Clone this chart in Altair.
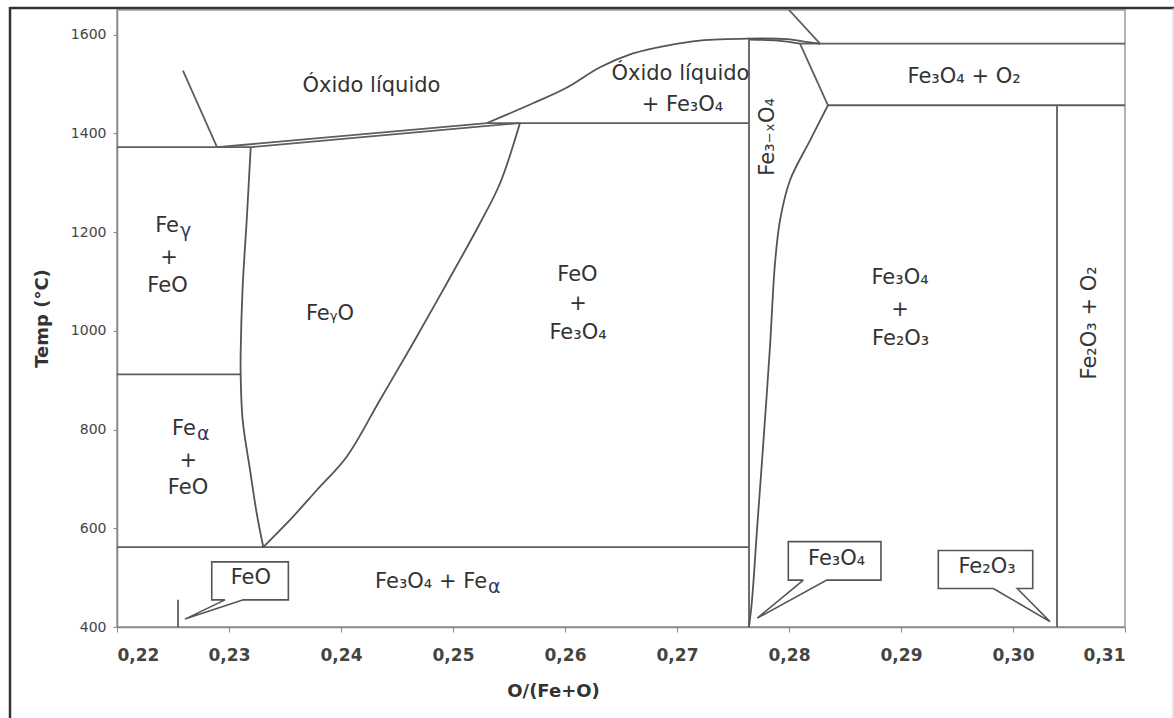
import altair as alt
import pandas as pd

# ---------------- axis values ----------------
x_ticks = [0.22, 0.23, 0.24, 0.25, 0.26, 0.27, 0.28, 0.29, 0.30, 0.31]
t_ticks = [400, 600, 800, 1000, 1200, 1400, 1600]
x_domain = [0.22, 0.31]
t_domain = [400, 1650]

# ---------------- straight phase boundaries (x = O/(Fe+O), t = °C) ----------------
eutectic_x = [0.22, 0.23194]
eutectic_t = [1372, 1372]
alpha_gamma_x = [0.22, 0.23104]
alpha_gamma_t = [912, 912]
eutectoid_x = [0.22, 0.27643]
eutectoid_t = [562, 562]
peritectic_x = [0.25304, 0.27643]
peritectic_t = [1421, 1421]
magnetite_left_x = [0.27643, 0.27643]
magnetite_left_t = [400, 1594]
fe3o4_o2_x = [0.28098, 0.31]
fe3o4_o2_t = [1582, 1582]
fe2o3_top_x = [0.28348, 0.31]
fe2o3_top_t = [1457, 1457]
hematite_x = [0.30393, 0.30393]
hematite_t = [400, 1457]
small_tick_x = [0.22545, 0.22545]
small_tick_t = [400, 455]

# ---------------- curved phase boundaries ----------------
fe_liquidus_x = [0.22589, 0.22893]
fe_liquidus_t = [1527, 1372]
wus_liquidus_x = [0.22893, 0.25304]
wus_liquidus_t = [1372, 1421]
wus_solidus_x = [0.23194, 0.25598]
wus_solidus_t = [1372, 1421]
wus_left_x = [0.23194, 0.23158, 0.23122, 0.23104, 0.23104, 0.23122, 0.23188, 0.23247, 0.23306]
wus_left_t = [1372, 1224, 1089, 955, 912, 819, 718, 631, 562]
wus_right_x = [0.23306, 0.23545, 0.23783, 0.24051, 0.24348, 0.24643, 0.24944, 0.25241, 0.25420, 0.25598]
wus_right_t = [562, 617, 677, 745, 860, 975, 1096, 1218, 1299, 1421]
liquid_x = [0.25304, 0.25714, 0.26018, 0.26313, 0.26607, 0.26911, 0.27205, 0.27634, 0.27982, 0.28170, 0.28277]
liquid_t = [1421, 1461, 1493, 1534, 1562, 1578, 1588, 1592, 1591, 1585, 1582]
magnetite_top_x = [0.27643, 0.27900, 0.28098]
magnetite_top_t = [1590, 1588, 1582]
o2_line_x = [0.28000, 0.28277]
o2_line_t = [1650, 1582]
mag_right_upper_x = [0.28098, 0.28348]
mag_right_upper_t = [1582, 1457]
mag_right_x = [0.28348, 0.28188, 0.28009, 0.27920, 0.27875, 0.27830, 0.27768, 0.27714, 0.27670, 0.27643]
mag_right_t = [1457, 1386, 1305, 1224, 1137, 967, 764, 596, 455, 400]

# ---------------- callout boxes ----------------
callout_names = ["FeO", "Fe3O4", "Fe2O3"]
callout_box_x0 = [0.22846, 0.27994, 0.29333]
callout_box_x1 = [0.23530, 0.28821, 0.30176]
callout_box_top = [532, 573, 555]
callout_box_bot = [455, 495, 478]
callout_base_x0 = [0.22964, 0.28128, 0.29824]
callout_base_x1 = [0.23128, 0.28337, 0.30038]
callout_tip_x = [0.22607, 0.27717, 0.30330]
callout_tip_t = [416, 418, 411]

# ---------------- labels ----------------
label_text = ["Óxido líquido", "Óxido líquido", "+ Fe₃O₄", "Fe₃O₄ + O₂",
              "+", "FeO", "FeᵧO", "+", "FeO",
              "FeO", "+", "Fe₃O₄", "Fe₃O₄", "+", "Fe₂O₃",
              "FeO", "Fe₃O₄", "Fe₂O₃"]
label_x = [0.24272, 0.27031, 0.27049, 0.29563,
           0.22464, 0.22451, 0.23902, 0.22637, 0.22634,
           0.26111, 0.26116, 0.26116, 0.28991, 0.28991, 0.28997,
           0.23195, 0.28425, 0.29768]
label_t = [1497, 1521, 1457, 1515,
           1147, 1091, 1034, 736, 682,
           1113, 1055, 995, 1107, 1043, 983,
           499, 538, 522]

vlabel_text = ["Fe₃₋ₓO₄", "Fe₂O₃ + O₂"]
vlabel_x = [0.27813, 0.30688]
vlabel_t = [1393, 1016]

greek_main = ["Fe", "Fe", "Fe₃O₄ + Fe"]
greek_sub = ["γ", "α", "α"]
greek_x = [0.22554, 0.22705, 0.25304]
greek_t = [1212, 802, 491]

# ---------------- build tables ----------------
straight = {
    "eutectic": (eutectic_x, eutectic_t),
    "alpha_gamma": (alpha_gamma_x, alpha_gamma_t),
    "eutectoid": (eutectoid_x, eutectoid_t),
    "peritectic": (peritectic_x, peritectic_t),
    "magnetite_left": (magnetite_left_x, magnetite_left_t),
    "fe3o4_o2": (fe3o4_o2_x, fe3o4_o2_t),
    "fe2o3_top": (fe2o3_top_x, fe2o3_top_t),
    "hematite": (hematite_x, hematite_t),
    "small_tick": (small_tick_x, small_tick_t),
    "fe_liquidus": (fe_liquidus_x, fe_liquidus_t),
    "wus_liquidus": (wus_liquidus_x, wus_liquidus_t),
    "wus_solidus": (wus_solidus_x, wus_solidus_t),
    "o2_line": (o2_line_x, o2_line_t),
    "mag_right_upper": (mag_right_upper_x, mag_right_upper_t),
}
curves = {
    "wus_left": (wus_left_x, wus_left_t),
    "wus_right": (wus_right_x, wus_right_t),
    "liquid": (liquid_x, liquid_t),
    "magnetite_top": (magnetite_top_x, magnetite_top_t),
    "mag_right": (mag_right_x, mag_right_t),
}


def to_df(segs):
    rows = []
    for name, (xs, ts) in segs.items():
        for i, (xv, tv) in enumerate(zip(xs, ts)):
            rows.append({"seg": name, "i": i, "x": xv, "t": tv})
    return pd.DataFrame(rows)


straight_df = to_df(straight)
curve_df = to_df(curves)

call_rows = []
for k, name in enumerate(callout_names):
    pts = [
        (callout_base_x0[k], callout_box_bot[k]),
        (callout_box_x0[k], callout_box_bot[k]),
        (callout_box_x0[k], callout_box_top[k]),
        (callout_box_x1[k], callout_box_top[k]),
        (callout_box_x1[k], callout_box_bot[k]),
        (callout_base_x1[k], callout_box_bot[k]),
        (callout_tip_x[k], callout_tip_t[k]),
        (callout_base_x0[k], callout_box_bot[k]),
    ]
    for i, (xv, tv) in enumerate(pts):
        call_rows.append({"seg": name, "i": i, "x": xv, "t": tv})
callout_df = pd.DataFrame(call_rows)

labels_df = pd.DataFrame({"text": label_text, "x": label_x, "t": label_t})
vlabels_df = pd.DataFrame({"text": vlabel_text, "x": vlabel_x, "t": vlabel_t})
greek_df = pd.DataFrame({"main": greek_main, "sub": greek_sub, "x": greek_x, "t": greek_t})

FONT = "DejaVu Sans"
LINE = "#555555"
TEXT = "#333333"

x_axis = alt.Axis(
    values=x_ticks,
    labelExpr="replace(format(datum.value, '.2f'), '.', ',')",
    title="O/(Fe+O)",
    grid=False,
    tickSize=5,
    labelPadding=15,
    labelFont=FONT,
    labelFontSize=17,
    labelFontWeight="bold",
    labelColor="#444444",
    domainColor="#888888",
    domainWidth=1.5,
    tickColor="#888888",
    titleFont=FONT,
    titleFontSize=18,
    titleFontWeight="bold",
    titleColor=TEXT,
    titleX=436,
    titleY=64,
    titleBaseline="middle",
)
y_axis = alt.Axis(
    values=t_ticks,
    format="d",
    title="Temp (°C)",
    grid=False,
    tickSize=4,
    labelPadding=7,
    labelFont=FONT,
    labelFontSize=14,
    labelColor="#444444",
    domainColor="#888888",
    domainWidth=1.5,
    tickColor="#888888",
    titleFont=FONT,
    titleFontSize=18,
    titleFontWeight="bold",
    titleColor=TEXT,
    titleX=-75,
    titleY=308,
    titleBaseline="middle",
)

X = alt.X("x:Q", scale=alt.Scale(domain=x_domain, nice=False, zero=False), axis=x_axis)
Y = alt.Y("t:Q", scale=alt.Scale(domain=t_domain, nice=False, zero=False), axis=y_axis)

straight_layer = alt.Chart(straight_df).mark_line(color="#5e5e5e", strokeWidth=1.8, clip=True).encode(
    x=X, y=Y, detail="seg:N", order="i:Q"
)
curve_layer = alt.Chart(curve_df).mark_line(
    color=LINE, strokeWidth=1.8, clip=True, interpolate="catmull-rom"
).encode(x="x:Q", y="t:Q", detail="seg:N", order="i:Q")
callout_layer = alt.Chart(callout_df).mark_line(color=LINE, strokeWidth=1.6).encode(
    x="x:Q", y="t:Q", detail="seg:N", order="i:Q"
)
label_layer = alt.Chart(labels_df).mark_text(
    font=FONT, fontSize=21, color=TEXT, align="center", baseline="middle"
).encode(x="x:Q", y="t:Q", text="text:N")
vlabel_layer = alt.Chart(vlabels_df).mark_text(
    font=FONT, fontSize=21, color=TEXT, align="center", baseline="middle", angle=270
).encode(x="x:Q", y="t:Q", text="text:N")
greek_main_layer = alt.Chart(greek_df).mark_text(
    font=FONT, fontSize=21, color=TEXT, align="right", baseline="middle"
).encode(x="x:Q", y="t:Q", text="main:N")
greek_sub_layer = alt.Chart(greek_df).mark_text(
    font=FONT, fontSize=19, color="#2d3866", align="left", baseline="middle", dx=1, dy=5
).encode(x="x:Q", y="t:Q", text="sub:N")

frame_df = pd.DataFrame({"k": [0]})
frame_top = alt.Chart(frame_df).mark_rule(color="#333333", strokeWidth=2.5).encode(
    x=alt.value(-107), x2=alt.value(1060), y=alt.value(-2)
)
frame_left = alt.Chart(frame_df).mark_rule(color="#333333", strokeWidth=2.5).encode(
    x=alt.value(-107), y=alt.value(-3), y2=alt.value(720)
)
frame_right = alt.Chart(frame_df).mark_rule(color="#c8c8c8", strokeWidth=1).encode(
    x=alt.value(1056), y=alt.value(-2), y2=alt.value(720)
)

chart = alt.layer(
    straight_layer, curve_layer, callout_layer,
    label_layer, vlabel_layer, greek_main_layer, greek_sub_layer,
    frame_top, frame_left, frame_right,
).properties(
    width=1008,
    height=617,
    padding={"left": 117, "top": 10, "right": 49, "bottom": 91},
    autosize=alt.AutoSizeParams(type="none"),
    background="white",
).configure_view(stroke="#999999", strokeWidth=1.5)

chart.save("out.html", embed_options={"renderer": "svg", "actions": False})
